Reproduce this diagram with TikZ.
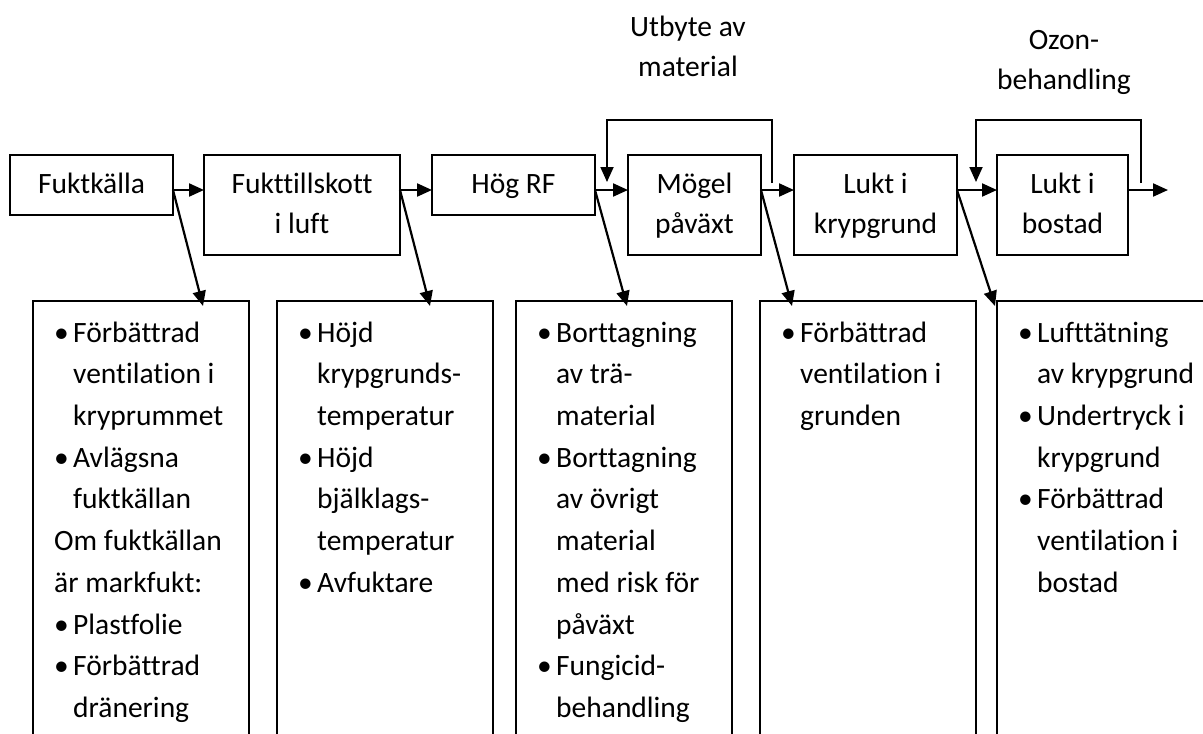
\documentclass[tikz,border=0pt]{standalone}
\usepackage{fontspec}
\setmainfont{Carlito}[Ligatures=NoCommon]
\usepackage{tikz}
\usetikzlibrary{arrows.meta,positioning}

\newcommand{\pkt}{\makebox[19pt][l]{\textbullet}}
\newcommand{\ind}{\hspace*{19pt}}

\begin{document}
\begin{tikzpicture}[
  x=1pt, y=1pt,
  font=\fontsize{29.5}{40}\selectfont,
  box/.style={draw, line width=1.6pt, align=center, inner sep=0pt, outer sep=0pt,
              minimum height=100pt},
  panel/.style={draw, line width=1.6pt, inner sep=0pt, outer sep=0pt,
                minimum width=216pt, minimum height=460pt},
  lista/.style={align=left, inner sep=0pt, anchor=north west,
                font=\fontsize{29.5}{41.7}\selectfont},
  arr/.style={-{Triangle[length=15pt, width=13pt]}, line width=2.2pt},
  slinga/.style={-{Triangle[length=15pt, width=13pt]}, line width=1.8pt},
  lbl/.style={align=center, inner sep=0pt}
]
\path[fill=white, use as bounding box] (0,0) rectangle (1203,-734);
\clip (0,0) rectangle (1203,-734);

\node[box, minimum width=163pt, minimum height=60pt, anchor=north west] (fukt) at (10,-155) {\strut Fuktkälla};
\node[box, minimum width=196pt, right=31pt of fukt.north east, anchor=north west] (tillskott) {\strut Fukttillskott\\i luft\strut};
\node[box, minimum width=163pt, minimum height=60pt, right=32pt of tillskott.north east, anchor=north west] (rf) {\strut Hög RF};
\node[box, minimum width=133pt, right=33pt of rf.north east, anchor=north west] (mogel) {\strut Mögel\\påväxt\strut};
\node[box, minimum width=163pt, right=33pt of mogel.north east, anchor=north west] (krypgrund) {\strut Lukt i\\krypgrund\strut};
\node[box, minimum width=131pt, right=40pt of krypgrund.north east, anchor=north west] (bostad) {\strut Lukt i\\bostad\strut};

\node[panel, anchor=north west] (tiltag1) at (33,-301) {};
\node[panel, right=28pt of tiltag1.north east, anchor=north west] (tiltag2) {};
\node[panel, right=23pt of tiltag2.north east, anchor=north west] (tiltag3) {};
\node[panel, right=28pt of tiltag3.north east, anchor=north west] (tiltag4) {};
\node[panel, right=21pt of tiltag4.north east, anchor=north west] (tiltag5) {};

\node[lista] (text1) at ([xshift=21pt, yshift=-11.8pt]tiltag1.north west)
  {\strut\pkt Förbättrad\\ \ind ventilation i\\ \ind kryprummet\\ \pkt Avlägsna\\ \ind fuktkällan\\
   Om fuktkällan\\ är markfukt:\\ \pkt Plastfolie\\ \pkt Förbättrad\\ \ind dränering};
\node[lista] (text2) at ([xshift=21pt, yshift=-11.8pt]tiltag2.north west)
  {\strut\pkt Höjd\\ \ind krypgrunds-\\ \ind temperatur\\ \pkt Höjd\\ \ind bjälklags-\\ \ind temperatur\\
   \pkt Avfuktare};
\node[lista] (text3) at ([xshift=21pt, yshift=-11.8pt]tiltag3.north west)
  {\strut\pkt Borttagning\\ \ind av trä-\\ \ind material\\ \pkt Borttagning\\ \ind av övrigt\\ \ind material\\
   \ind med risk för\\ \ind påväxt\\ \pkt Fungicid-\\ \ind behandling};
\node[lista] (text4) at ([xshift=21pt, yshift=-11.8pt]tiltag4.north west)
  {\strut\pkt Förbättrad\\ \ind ventilation i\\ \ind grunden};
\node[lista] (text5) at ([xshift=21pt, yshift=-11.8pt]tiltag5.north west)
  {\strut\pkt Lufttätning\\ \ind av krypgrund\\ \pkt Undertryck i\\ \ind krypgrund\\ \pkt Förbättrad\\
   \ind ventilation i\\ \ind bostad};

\coordinate (slut) at ([xshift=40pt, yshift=-35pt]bostad.north east);
\draw[arr] ([yshift=-35pt]fukt.north east) -- ([yshift=-35pt]tillskott.north west);
\draw[arr] ([yshift=-35pt]tillskott.north east) -- ([yshift=-35pt]rf.north west);
\draw[arr] ([yshift=-35pt]rf.north east) -- ([yshift=-35pt]mogel.north west);
\draw[arr] ([yshift=-35pt]mogel.north east) -- ([yshift=-35pt]krypgrund.north west);
\draw[arr] ([yshift=-35pt]krypgrund.north east) -- ([yshift=-35pt]bostad.north west);
\draw[arr] ([yshift=-35pt]bostad.north east) -- (slut);

\draw[arr] ([yshift=-35pt]fukt.north east) -- ([xshift=170pt, yshift=-5pt]tiltag1.north west);
\draw[arr] ([yshift=-35pt]tillskott.north east) -- ([xshift=153pt, yshift=-5pt]tiltag2.north west);
\draw[arr] ([yshift=-35pt]rf.north east) -- ([xshift=111pt, yshift=-5pt]tiltag3.north west);
\draw[arr] ([yshift=-35pt]mogel.north east) -- ([xshift=32pt, yshift=-5pt]tiltag4.north west);
\draw[arr] ([yshift=-35pt]krypgrund.north east) -- ([xshift=-2pt, yshift=-5pt]tiltag5.north west);

\coordinate (utbyte-fran) at ([xshift=11pt, yshift=-28pt]mogel.north east);
\coordinate (utbyte-till) at ([xshift=12pt, yshift=-27pt]rf.north east);
\draw[slinga] (utbyte-fran) -- ++(0,63) -| (utbyte-till);
\node[lbl, anchor=base] (utbyte) at (688,-76) {Utbyte av\\material};

\coordinate (ozon-fran) at ([xshift=13pt, yshift=-28pt]bostad.north east);
\coordinate (ozon-till) at ([xshift=19pt, yshift=-27pt]krypgrund.north east);
\draw[slinga] (ozon-fran) -- ++(0,63) -| (ozon-till);
\node[lbl, anchor=base] (ozon) at (1064,-89) {Ozon-\\behandling};
\end{tikzpicture}
\end{document}
